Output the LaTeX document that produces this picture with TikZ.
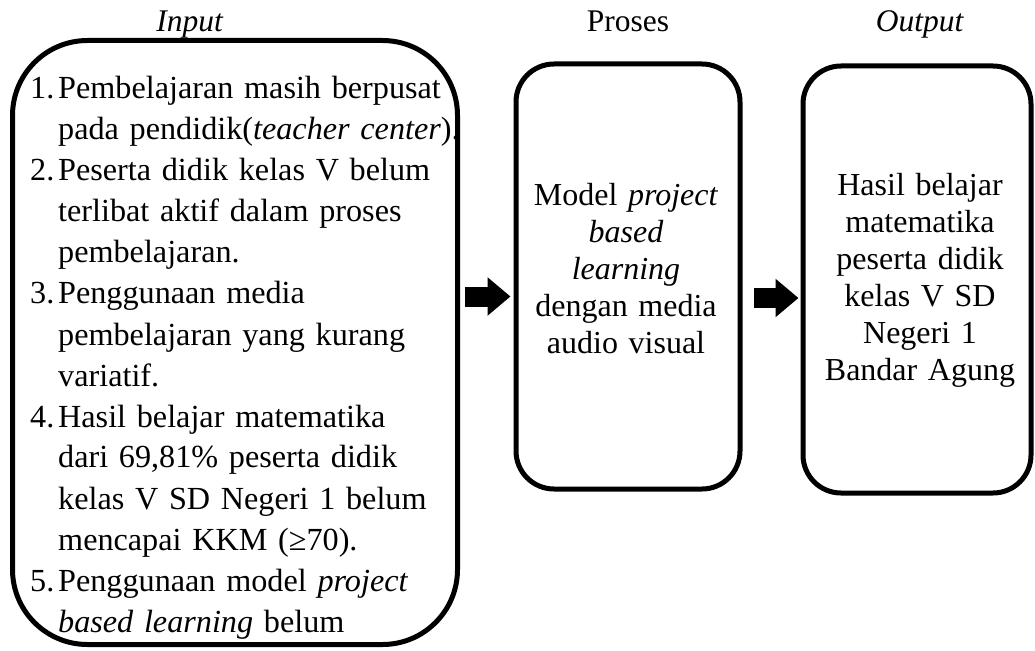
\documentclass[tikz,border=0pt]{standalone}
\usepackage{fontspec}
\setmainfont{Liberation Serif}
\usepackage{tikz}
\usetikzlibrary{arrows.meta}
\tikzstyle{box} = [rectangle, draw=black, line width=5pt, inner sep=0pt]
\tikzstyle{title} = [font=\fontsize{31.5}{37}\selectfont, anchor=base, inner sep=0pt]
\tikzstyle{list} = [font=\fontsize{32.2}{41}\selectfont, text width=480pt, align=left, anchor=base west, inner sep=0pt]
\tikzstyle{boxtext} = [font=\fontsize{32}{37}\selectfont, text width=220pt, align=center, anchor=base, inner sep=0pt]
\tikzstyle{arrow} = [line width=20pt, -{Triangle[length=23pt,width=37pt]}]
\newcommand{\nr}[1]{\makebox[28pt][l]{#1.}}
\newcommand{\ind}{\hspace*{28pt}}

\begin{document}
\begin{tikzpicture}[x=1pt,y=-1pt]
   \useasboundingbox (0,0) rectangle (1035,650);
   % kotak
   \node (input) [box, rounded corners=75pt, minimum width=445pt, minimum height=604pt] at (235,342.5) {};
   \node (proses) [box, rounded corners=38pt, minimum width=224pt, minimum height=425pt] at (628,276.5) {};
   \node (output) [box, rounded corners=38pt, minimum width=228pt, minimum height=427pt] at (917,279.5) {};
   % judul
   \node (inlbl) [title] at (190,32) {\textit{Input}};
   \node (prlbl) [title] at (628,32) {Proses};
   \node (outlbl) [title] at (920,32) {\textit{Output}};
   % isi
   \node (inlist) [list] at (30,99) {\nr{1}Pembelajaran masih berpusat\\
      \ind pada pendidik(\textit{teacher center}).\\
      \nr{2}Peserta didik kelas V belum\\
      \ind terlibat aktif dalam proses\\
      \ind pembelajaran.\\
      \nr{3}Penggunaan media\\
      \ind pembelajaran yang kurang\\
      \ind variatif.\\
      \nr{4}Hasil belajar matematika\\
      \ind dari 69,81\% peserta didik\\
      \ind kelas V SD Negeri 1 belum\\
      \ind mencapai KKM (≥70).\\
      \nr{5}Penggunaan model \textit{project}\\
      \ind \textit{based learning} belum};
   \node (prtext) [boxtext] at (626,205) {Model \textit{project}\\ \textit{based}\\ \textit{learning}\\ dengan media\\ audio visual};
   \node (outtext) [boxtext] at (920,195) {Hasil belajar\\ matematika\\ peserta didik\\ kelas V SD\\ Negeri 1\\ Bandar Agung};
   % panah
   \coordinate (a1) at ([yshift=-20pt]proses.west);
   \coordinate (a2) at ([yshift=-18.5pt]output.west);
   \draw [arrow, shorten <=5pt, shorten >=3pt] (a1 -| input.east) -- (a1);
   \draw [arrow, shorten <=11pt, shorten >=2pt] (a2 -| proses.east) -- (a2);
\end{tikzpicture}
\end{document}
